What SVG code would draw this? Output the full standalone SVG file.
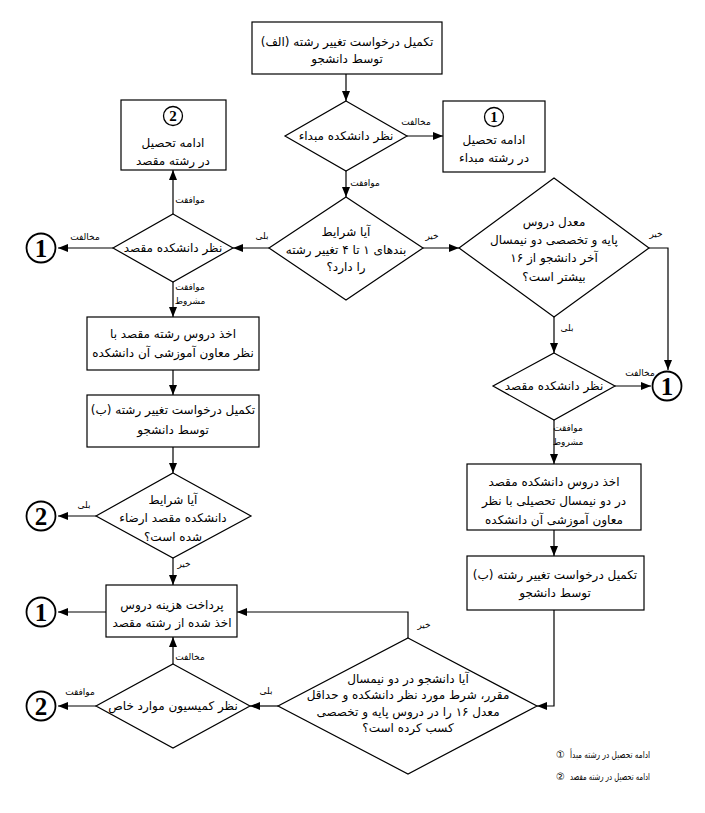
<svg xmlns="http://www.w3.org/2000/svg" width="705" height="813" viewBox="0 0 705 813">
<defs>
<marker id="ah" viewBox="0 0 10 10" refX="10" refY="5" markerWidth="10" markerHeight="10" markerUnits="userSpaceOnUse" orient="auto">
<path d="M0,1 L10,5 L0,9 Z" fill="#000"/>
</marker>
<style>
.s{fill:#fff;stroke:#000;stroke-width:1.2}
.t{font-family:"DejaVu Sans",sans-serif;font-size:12px;text-anchor:middle;fill:#000}
.l{font-family:"DejaVu Sans",sans-serif;font-size:9px;text-anchor:middle;fill:#000}
.c{fill:#fff;stroke:#000;stroke-width:1.8}
.n{font-family:"Liberation Serif",serif;font-weight:bold;font-size:25px;text-anchor:middle;fill:#000}
.ns{font-family:"Liberation Serif",serif;font-weight:bold;font-size:15px;text-anchor:middle;fill:#000}
.e{fill:none;stroke:#000;stroke-width:1.2;marker-end:url(#ah)}
.g{font-family:"DejaVu Sans",sans-serif;font-size:9.5px;fill:#000}
.gi{font-family:"DejaVu Sans",sans-serif;font-size:10px;fill:#000}
</style>
</defs>
<rect width="705" height="813" fill="#fff"/>

<g id="connectors">
<path class="e" d="M346,74 V101"/>
<path class="e" d="M407,136 H443"/>
<path class="e" d="M346,171 V197"/>
<path class="e" d="M269,248 H233"/>
<path class="e" d="M423,248 H459"/>
<path class="e" d="M173,214 V170"/>
<path class="e" d="M113,248 H58"/>
<path class="e" d="M173,282 V317"/>
<path class="e" d="M173,370 V395"/>
<path class="e" d="M173,447 V473"/>
<path class="e" d="M96,516 H58"/>
<path class="e" d="M173,558 V585"/>
<path class="e" d="M106,612 H58"/>
<path class="e" d="M173,664 V637"/>
<path class="e" d="M96,706 H58"/>
<path class="e" d="M278,706 H250"/>
<path class="e" d="M408,638 V612 H237"/>
<path class="e" d="M554,317 V353"/>
<path class="e" d="M649,248 H668 V370"/>
<path class="e" d="M615,386 H651"/>
<path class="e" d="M554,420 V464"/>
<path class="e" d="M554,530 V556"/>
<path class="e" d="M554,610 V706 H537"/>
<text class="l" x="416" y="125">مخالفت</text>
<text class="l" x="365" y="186">موافقت</text>
<text class="l" x="262" y="239">بلی</text>
<text class="l" x="432" y="239">خیر</text>
<text class="l" x="190" y="203">موافقت</text>
<text class="l" x="85" y="240">مخالفت</text>
<text class="l" x="190" y="290">موافقت</text>
<text class="l" x="190" y="304">مشروط</text>
<text class="l" x="84" y="508">بلی</text>
<text class="l" x="184" y="567">خیر</text>
<text class="l" x="190" y="660">مخالفت</text>
<text class="l" x="80" y="695">موافقت</text>
<text class="l" x="266" y="694">بلی</text>
<text class="l" x="424" y="628">خیر</text>
<text class="l" x="567" y="331">بلی</text>
<text class="l" x="656" y="237">خیر</text>
<text class="l" x="640" y="376">مخالفت</text>
<text class="l" x="568" y="431">موافقت</text>
<text class="l" x="568" y="445">مشروط</text>
</g>

<g id="start">
<rect class="s" x="252" y="22" width="190" height="52"/>
<text class="t" x="347" y="46">تکمیل درخواست تغییر رشته (الف)</text>
<text class="t" x="347" y="63">توسط دانشجو</text>
</g>

<g id="d-origin">
<path class="s" d="M346,101 L407,136 L346,171 L285,136 Z"/>
<text class="t" x="346" y="140">نظر دانشکده مبداء</text>
</g>

<g id="box-origin">
<rect class="s" x="443" y="101" width="102" height="71"/>
<circle cx="494" cy="117" r="9.5" fill="none" stroke="#000" stroke-width="1.3"/>
<text class="ns" x="494" y="122">1</text>
<text class="t" x="494" y="144">ادامه تحصیل</text>
<text class="t" x="494" y="162">در رشته مبداء</text>
</g>

<g id="box-dest">
<rect class="s" x="121" y="100" width="105" height="70"/>
<circle cx="173" cy="116" r="9.5" fill="none" stroke="#000" stroke-width="1.3"/>
<text class="ns" x="173" y="121">2</text>
<text class="t" x="173" y="147">ادامه تحصیل</text>
<text class="t" x="173" y="165">در رشته مقصد</text>
</g>

<g id="d-cond">
<path class="s" d="M346,197 L423,248 L346,300 L269,248 Z"/>
<text class="t" x="346" y="236">آیا شرایط</text>
<text class="t" x="346" y="254">بندهای ۱ تا ۴ تغییر رشته</text>
<text class="t" x="346" y="271">را دارد؟</text>
</g>

<g id="d-avg">
<path class="s" d="M554,178 L649,248 L554,317 L459,248 Z"/>
<text class="t" x="554" y="226">معدل دروس</text>
<text class="t" x="554" y="244">پایه و تخصصی دو نیمسال</text>
<text class="t" x="554" y="262">آخر دانشجو از ۱۶</text>
<text class="t" x="554" y="281">بیشتر است؟</text>
</g>

<g id="d-dest-left">
<path class="s" d="M173,214 L233,248 L173,282 L113,248 Z"/>
<text class="t" x="173" y="252">نظر دانشکده مقصد</text>
</g>

<g id="c1-a"><circle class="c" cx="41" cy="248" r="14.5"/><text class="n" x="41" y="256.5">1</text></g>

<g id="box-take-left">
<rect class="s" x="87" y="317" width="172" height="53"/>
<text class="t" x="173" y="338">اخذ دروس رشته مقصد با</text>
<text class="t" x="173" y="357">نظر معاون آموزشی آن دانشکده</text>
</g>

<g id="box-req-b-left">
<rect class="s" x="87" y="395" width="172" height="52"/>
<text class="t" x="173" y="414">تکمیل درخواست تغییر رشته (ب)</text>
<text class="t" x="173" y="434">توسط دانشجو</text>
</g>

<g id="d-satisfied">
<path class="s" d="M173,473 L251,516 L173,558 L96,516 Z"/>
<text class="t" x="173" y="504">آیا شرایط</text>
<text class="t" x="173" y="522">دانشکده مقصد ارضاء</text>
<text class="t" x="173" y="541">شده است؟</text>
</g>

<g id="c2-a"><circle class="c" cx="41" cy="516" r="14.5"/><text class="n" x="41" y="524.5">2</text></g>

<g id="box-pay">
<rect class="s" x="106" y="585" width="131" height="52"/>
<text class="t" x="172" y="609">پرداخت هزینه دروس</text>
<text class="t" x="172" y="627">اخذ شده از رشته مقصد</text>
</g>

<g id="c1-b"><circle class="c" cx="41" cy="612" r="14.5"/><text class="n" x="41" y="620.5">1</text></g>

<g id="d-commission">
<path class="s" d="M173,664 L250,706 L173,748 L96,706 Z"/>
<text class="t" x="173" y="710">نظر کمیسیون موارد خاص</text>
</g>

<g id="c2-b"><circle class="c" cx="41" cy="706" r="14.5"/><text class="n" x="41" y="714.5">2</text></g>

<g id="d-final">
<path class="s" d="M408,638 L537,706 L408,774 L278,706 Z"/>
<text class="t" x="408" y="683">آیا دانشجو در دو نیمسال</text>
<text class="t" x="408" y="699">مقرر، شرط مورد نظر دانشکده و حداقل</text>
<text class="t" x="408" y="716">معدل ۱۶ را در دروس پایه و تخصصی</text>
<text class="t" x="408" y="732">کسب کرده است؟</text>
</g>

<g id="d-dest-right">
<path class="s" d="M554,353 L615,386 L554,420 L493,386 Z"/>
<text class="t" x="554" y="390">نظر دانشکده مقصد</text>
</g>

<g id="c1-c"><circle class="c" cx="667" cy="386" r="14.5"/><text class="n" x="667" y="394.5">1</text></g>

<g id="box-take-right">
<rect class="s" x="467" y="464" width="174" height="66"/>
<text class="t" x="554" y="486">اخذ دروس دانشکده مقصد</text>
<text class="t" x="554" y="505">در دو نیمسال تحصیلی با نظر</text>
<text class="t" x="554" y="524">معاون آموزشی آن دانشکده</text>
</g>

<g id="box-req-b-right">
<rect class="s" x="467" y="556" width="177" height="54"/>
<text class="t" x="555" y="579">تکمیل درخواست تغییر رشته (ب)</text>
<text class="t" x="555" y="597">توسط دانشجو</text>
</g>

<g id="legend">
<text class="gi" x="556" y="758">①</text>
<text class="g" x="650" y="758" text-anchor="end" textLength="80" lengthAdjust="spacingAndGlyphs">ادامه تحصیل در رشته مبدأ</text>
<text class="gi" x="556" y="780">②</text>
<text class="g" x="650" y="780" text-anchor="end" textLength="80" lengthAdjust="spacingAndGlyphs">ادامه تحصیل در رشته مقصد</text>
</g>
</svg>
